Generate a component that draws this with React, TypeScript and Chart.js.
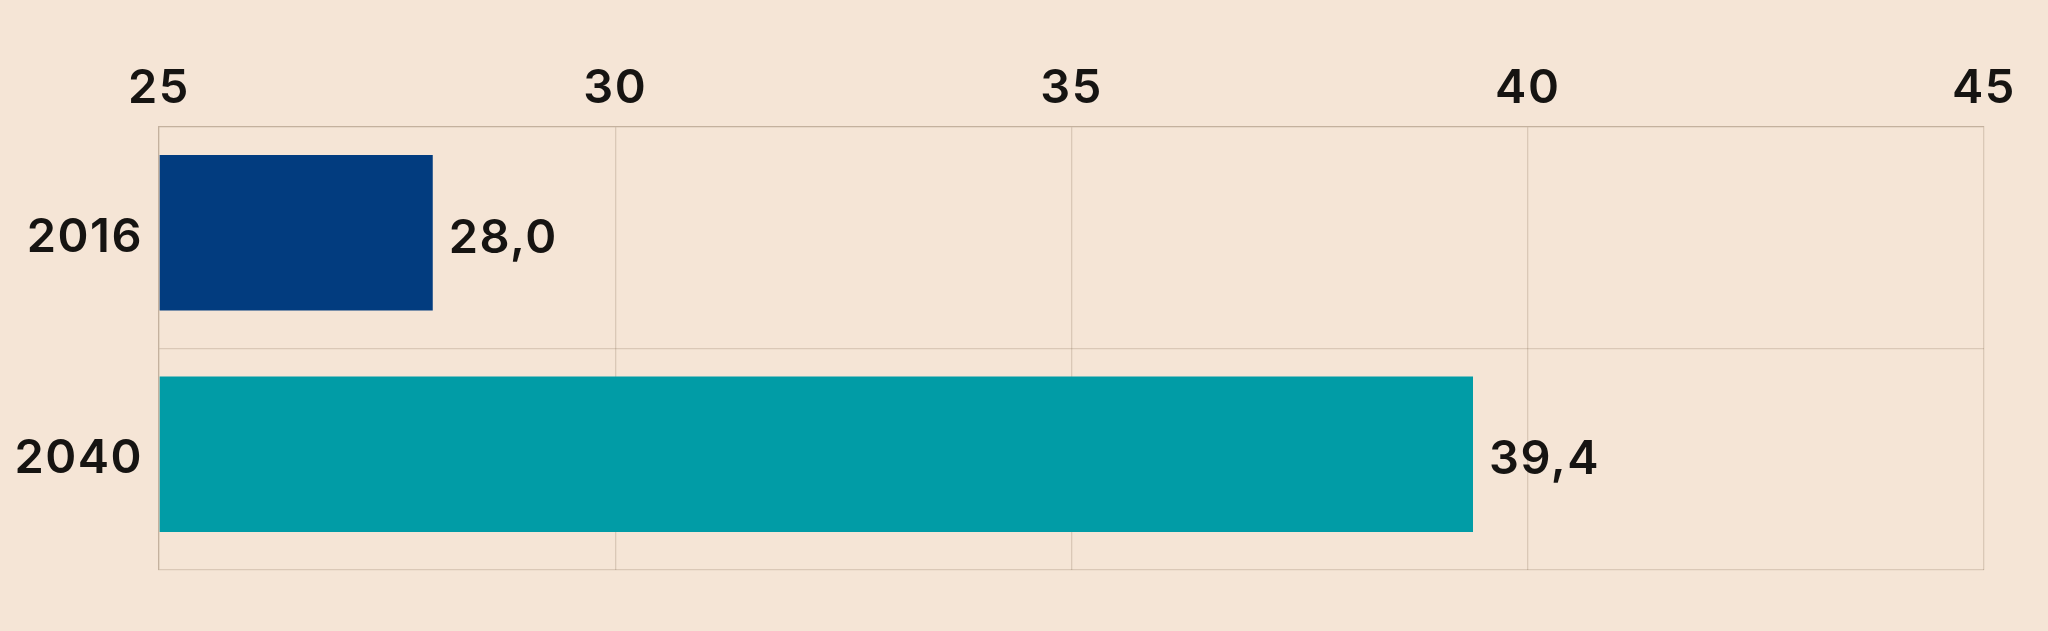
import { useRef, useEffect } from "react";
import { Chart, registerables, type ChartOptions, type Plugin } from "chart.js";

Chart.register(...registerables);

const years = ["2016", "2040"];
const values = [28.0, 39.4];
const barColors = ["#023c7f", "#019ca6"];
const xTicks = [25, 30, 35, 40, 45];

const FONT = "Inter, 'DejaVu Sans', sans-serif";
const TEXT = "#161412";
const GRID = "rgba(110,85,60,0.2)";

// a little tracking for all canvas text, the bars sit a few px above the category centre,
// and the value labels go at the end of each bar with a decimal comma
const styling: Plugin<"bar"> = {
  id: "styling",
  beforeDraw(chart) {
    (chart.ctx as any).letterSpacing = "1.5px";
  },
  beforeDatasetsDraw(chart) {
    chart.ctx.save();
    chart.ctx.translate(0, -5);
  },
  afterDatasetsDraw(chart) {
    const { ctx } = chart;
    ctx.restore();
    const meta = chart.getDatasetMeta(0);
    ctx.save();
    ctx.font = `600 47px ${FONT}`;
    ctx.fillStyle = TEXT;
    ctx.textAlign = "left";
    ctx.textBaseline = "middle";
    meta.data.forEach((bar, i) => {
      const p = bar.getProps(["x", "y"], true);
      ctx.fillText(values[i].toFixed(1).replace(".", ","), p.x + 16, p.y + 1);
    });
    ctx.restore();
  },
};

const options: ChartOptions<"bar"> = {
  indexAxis: "y",
  animation: false,
  responsive: true,
  maintainAspectRatio: false,
  layout: { padding: { left: 0, right: 64, top: 0, bottom: 61 } },
  plugins: { legend: { display: false }, tooltip: { enabled: false } },
  scales: {
    x: {
      position: "top",
      min: xTicks[0],
      max: xTicks[xTicks.length - 1],
      z: 1,
      afterBuildTicks: (s) => {
        s.ticks = xTicks.map((v) => ({ value: v }));
      },
      afterFit: (s) => {
        s.height = 127;
      },
      ticks: {
        padding: 10,
        color: TEXT,
        font: { family: FONT, size: 47, weight: 600 },
      },
      grid: { color: GRID, drawTicks: false, lineWidth: 1.3 },
      border: { color: GRID, width: 1.3 },
    },
    y: {
      z: 1,
      afterFit: (s) => {
        s.width = 159;
      },
      ticks: {
        padding: 16,
        color: TEXT,
        font: { family: FONT, size: 47, weight: 600 },
      },
      grid: { color: GRID, drawTicks: false, offset: true, lineWidth: 1.3 },
      border: { color: GRID, width: 1.3 },
    },
  },
};

export default function App() {
  const canvasRef = useRef<HTMLCanvasElement>(null);
  const chartRef = useRef<Chart<"bar"> | null>(null);

  useEffect(() => {
    document.body.style.margin = "0";
    if (!canvasRef.current) return;
    chartRef.current = new Chart(canvasRef.current, {
      type: "bar",
      data: {
        labels: years,
        datasets: [
          {
            data: values,
            base: xTicks[0],
            backgroundColor: barColors,
            categoryPercentage: 1,
            barPercentage: 0.703,
          },
        ],
      },
      options,
      plugins: [styling],
    });
    return () => {
      chartRef.current?.destroy();
    };
  }, []);

  return (
    <div style={{ width: 2048, height: 631, background: "#f5e5d6", position: "relative" }}>
      <canvas ref={canvasRef} role="img" aria-label="Bar chart 2016 vs 2040" />
    </div>
  );
}
